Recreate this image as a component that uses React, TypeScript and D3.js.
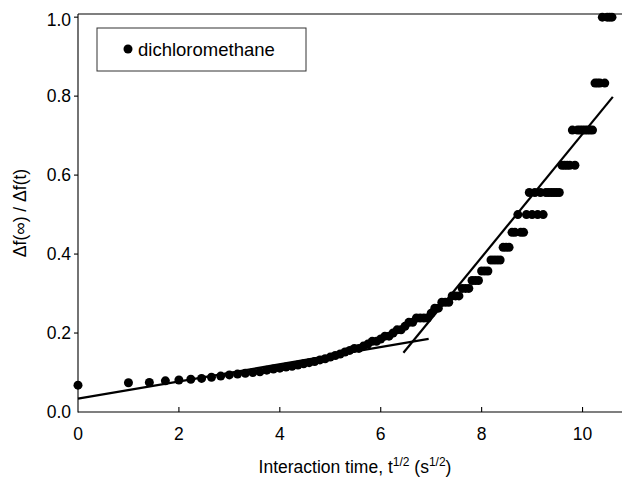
import React from "react";
import * as d3 from "d3";

// interaction time t (s); x axis shows t^1/2
const times = [
  0, 1, 2, 3, 4, 5, 6, 7, 8, 9, 10, 11, 12, 13, 14, 15, 16, 17, 18, 19,
  20, 21, 22, 23, 24, 25, 26, 27, 28, 29, 30, 31, 32, 33, 34, 35, 36, 37, 38, 39,
  40, 41, 42, 43, 44, 45, 46, 47, 48, 49, 50, 51, 52, 53, 54, 55, 56, 57, 58, 59,
  60, 61, 62, 63, 64, 65, 66, 67, 68, 69, 70, 71, 72, 73, 74, 75, 76, 77, 78, 79,
  80, 81, 82, 83, 84, 85, 86, 87, 88, 89, 90, 91, 92, 93, 94, 95, 96, 97, 98, 99,
  100, 101, 102, 103, 104, 105, 106, 107, 108, 109, 110, 111, 112,
];

// Δf(∞)/Δf(t) for dichloromethane
const ratio = [
  0.068, 0.074, 0.075, 0.079, 0.081, 0.083, 0.085, 0.088, 0.091, 0.094,
  0.096, 0.098, 0.100, 0.102, 0.106, 0.109, 0.111, 0.114, 0.116, 0.119,
  0.122, 0.125, 0.128, 0.132, 0.135, 0.139, 0.143, 0.147, 0.152, 0.156,
  0.161, 0.161, 0.167, 0.172, 0.179, 0.179, 0.185, 0.192, 0.192, 0.200,
  0.208, 0.208, 0.217, 0.227, 0.227, 0.238, 0.238, 0.238, 0.238, 0.250,
  0.263, 0.263, 0.278, 0.278, 0.278, 0.294, 0.294, 0.294, 0.313, 0.313,
  0.313, 0.333, 0.333, 0.333, 0.357, 0.357, 0.357, 0.385, 0.385, 0.385,
  0.385, 0.417, 0.417, 0.417, 0.455, 0.455, 0.500, 0.455, 0.455, 0.500,
  0.556, 0.500, 0.556, 0.500, 0.556, 0.500, 0.556, 0.556, 0.556, 0.556,
  0.556, 0.556, 0.625, 0.625, 0.625, 0.625, 0.714, 0.625, 0.714, 0.714,
  0.714, 0.714, 0.714, 0.714, 0.714, 0.833, 0.833, 0.833, 1.000, 0.833,
  1.000, 1.000, 1.000,
];

// fitted straight lines
const fitLowX = [0, 6.95];
const fitLowY = [0.034, 0.185];
const fitHighX = [6.45, 10.6];
const fitHighY = [0.15, 0.798];

const xTicks = [0, 2, 4, 6, 8, 10];
const yTicks = [0, 0.2, 0.4, 0.6, 0.8, 1.0];
const yTickLabels = ["0.0", "0.2", "0.4", "0.6", "0.8", "1.0"];
const legendLabel = "dichloromethane";

const W = 622;
const H = 482;
const left = 78;
const right = 633;
const top = 14;
const bottom = 412;
const font = "'Liberation Sans', Arial, sans-serif";

export default function App() {
  const x = d3.scaleLinear().domain([0, 11]).range([left, right]);
  const y = d3.scaleLinear().domain([0, 1.008]).range([bottom, top]);
  const line = d3
    .line<[number, number]>()
    .x((d) => x(d[0]))
    .y((d) => y(d[1]));
  const lowPts: [number, number][] = fitLowX.map((v, i) => [v, fitLowY[i]]);
  const highPts: [number, number][] = fitHighX.map((v, i) => [v, fitHighY[i]]);

  return (
    <svg
      width={W}
      height={H}
      style={{ position: "absolute", left: 0, top: 0, background: "#fff" }}
      fontFamily={font}
    >
      <rect x={0} y={0} width={W} height={H} fill="#fff" />
      {/* frame */}
      <line x1={left} x2={left} y1={top} y2={bottom + 0.5} stroke="#000" strokeWidth={1.1} />
      <line x1={left} x2={right} y1={bottom} y2={bottom} stroke="#000" strokeWidth={1.1} />
      <line x1={left} x2={right} y1={top} y2={top} stroke="#000" strokeWidth={1.1} />

      {/* x ticks */}
      {xTicks.map((t) => (
        <g key={"xt" + t}>
          {t !== 0 && (
            <line x1={x(t)} x2={x(t)} y1={bottom} y2={bottom - 5} stroke="#000" strokeWidth={1.1} />
          )}
          <text x={x(t)} y={440} textAnchor="middle" fontSize={17.5} fill="#000">
            {t}
          </text>
        </g>
      ))}
      {/* y ticks */}
      {yTicks.map((t, i) => (
        <g key={"yt" + t}>
          {t !== 0 && (
            <line x1={left - 4} x2={left} y1={y(t)} y2={y(t)} stroke="#000" strokeWidth={1.1} />
          )}
          <text
            x={71}
            y={y(t) + (t === 1 ? 8.5 : 6.3)}
            textAnchor="end"
            fontSize={17.5}
            fill="#000"
          >
            {yTickLabels[i]}
          </text>
        </g>
      ))}

      {/* axis titles */}
      <text x={355} y={473} textAnchor="middle" fontSize={17.5} fill="#000">
        Interaction time, t
        <tspan dy={-7} fontSize={12}>{"1/2"}</tspan>
        <tspan dy={7}>{" (s"}</tspan>
        <tspan dy={-7} fontSize={12}>{"1/2"}</tspan>
        <tspan dy={7}>{")"}</tspan>
      </text>
      <text
        transform={`translate(26, ${(top + bottom) / 2}) rotate(-90)`}
        textAnchor="middle"
        fontSize={17.5}
        fill="#000"
      >
        Δf(∞) / Δf(t)
      </text>

      {/* data */}
      {times.map((t, i) => (
        <circle key={"p" + i} cx={x(Math.sqrt(t))} cy={y(ratio[i])} r={4.5} fill="#000" />
      ))}

      {/* fitted lines */}
      <path d={line(lowPts) || ""} stroke="#000" strokeWidth={2.2} fill="none" />
      <path d={line(highPts) || ""} stroke="#000" strokeWidth={2.2} fill="none" />

      {/* legend */}
      <rect x={97} y={28} width={209} height={43} fill="#fff" stroke="#333" strokeWidth={1} />
      <circle cx={128} cy={49} r={4.5} fill="#000" />
      <text x={138} y={55.5} fontSize={18.5} fill="#000">
        {legendLabel}
      </text>
    </svg>
  );
}
